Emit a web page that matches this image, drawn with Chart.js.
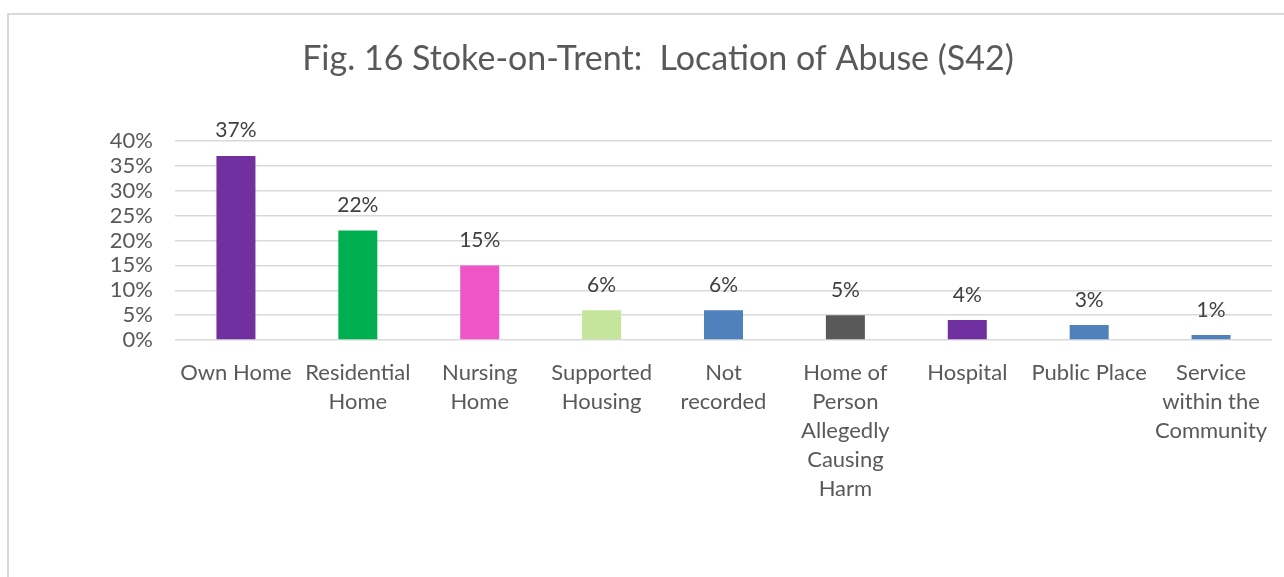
<!DOCTYPE html>
<html>
<head>
<meta charset="utf-8">
<script src="https://cdn.jsdelivr.net/npm/chart.js@4.4.1/dist/chart.umd.min.js"></script>
<style>
  html, body { margin: 0; padding: 0; background: #ffffff; width: 1284px; height: 577px; overflow: hidden; }
  #frame { position: absolute; left: 7px; top: 13px; width: 1300px; height: 620px; border: 2px solid #d9d9d9; box-sizing: border-box; }
  #wrap { position: absolute; left: 0; top: 0; width: 1284px; height: 577px; }
</style>
</head>
<body>
<div id="frame"></div>
<div id="wrap"><canvas id="c" width="1284" height="577"></canvas></div>
<script>
const titleText = 'Fig. 16 Stoke-on-Trent:  Location of Abuse (S42)';
const categories = [
  ['Own Home'],
  ['Residential', 'Home'],
  ['Nursing', 'Home'],
  ['Supported', 'Housing'],
  ['Not', 'recorded'],
  ['Home of', 'Person', 'Allegedly', 'Causing', 'Harm'],
  ['Hospital'],
  ['Public Place'],
  ['Service', 'within the', 'Community']
];
const values = [37, 22, 15, 6, 6, 5, 4, 3, 1];
const barColors = ['#7030A0', '#00B050', '#F055C8', '#C5E59D', '#4F81BD', '#595959', '#7030A0', '#4F81BD', '#4F81BD'];
const yTicks = [0, 5, 10, 15, 20, 25, 30, 35, 40];

const FONT = "Lato, 'Open Sans', sans-serif";

const titlePlugin = {
  id: 'customTitle',
  afterDraw(chart) {
    const ctx = chart.ctx;
    ctx.save();
    ctx.font = '34px ' + FONT;
    ctx.fillStyle = '#595959';
    ctx.textAlign = 'center';
    ctx.textBaseline = 'middle';
    ctx.fillText(titleText, 658, 59);
    ctx.restore();
  }
};

const dataLabelPlugin = {
  id: 'dataLabels',
  afterDatasetsDraw(chart) {
    const ctx = chart.ctx;
    const meta = chart.getDatasetMeta(0);
    ctx.save();
    ctx.font = '21px ' + FONT;
    ctx.fillStyle = '#404040';
    ctx.textAlign = 'center';
    ctx.textBaseline = 'alphabetic';
    meta.data.forEach((bar, i) => {
      ctx.fillText(values[i] + '%', bar.x, bar.y - 18.5);
    });
    ctx.restore();
  }
};

new Chart(document.getElementById('c'), {
  type: 'bar',
  data: {
    labels: categories,
    datasets: [{
      data: values,
      backgroundColor: barColors,
      borderWidth: 0,
      barPercentage: 0.32,
      categoryPercentage: 1.0
    }]
  },
  options: {
    responsive: false,
    animation: false,
    events: [],
    layout: { padding: { left: 0, right: 12, top: 141, bottom: 0 } },
    plugins: {
      legend: { display: false },
      tooltip: { enabled: false },
      title: { display: false }
    },
    scales: {
      x: {
        grid: { display: false },
        border: { display: false },
        ticks: {
          color: '#595959',
          font: { family: FONT, size: 22, lineHeight: 1.32 },
          padding: 10,
          maxRotation: 0,
          autoSkip: false
        },
        afterFit(scale) { scale.height = 237; }
      },
      y: {
        min: 0,
        max: 40,
        afterBuildTicks(scale) { scale.ticks = yTicks.map(v => ({ value: v })); },
        grid: { color: '#d9d9d9', lineWidth: 1.5, drawTicks: false },
        border: { display: false },
        ticks: {
          color: '#595959',
          font: { family: FONT, size: 22 },
          padding: 22,
          autoSkip: false,
          callback: (v) => v + '%'
        },
        afterFit(scale) { scale.width = 175; }
      }
    }
  },
  plugins: [dataLabelPlugin, titlePlugin]
});
</script>
</body>
</html>
